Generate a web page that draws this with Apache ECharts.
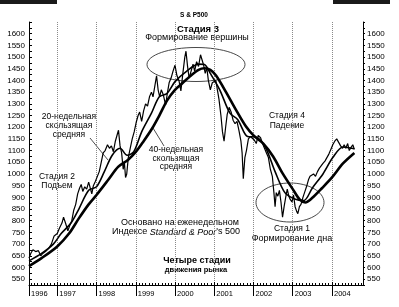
<!DOCTYPE html>
<html>
<head>
<meta charset="utf-8">
<title>S & P500 — четыре стадии</title>
<script src="https://cdn.jsdelivr.net/npm/echarts@6.0.0/dist/echarts.min.js"></script>
<style>
  html, body { margin: 0; padding: 0; background: #fff; }
  #chart { width: 399px; height: 307px; }
</style>
</head>
<body>
<div id="chart"></div>
<script>
// недельный индекс (годы в десятичном виде)
var priceYears = [1996.28,1996.33,1996.38,1996.45,1996.52,1996.58,1996.63,1996.70,1996.78,1996.85,1996.92,
  1997.00,1997.06,1997.12,1997.16,1997.21,1997.27,1997.32,1997.37,1997.42,1997.47,1997.52,1997.57,1997.61,1997.65,1997.70,1997.75,1997.80,1997.84,1997.88,1997.92,1997.97,
  1998.02,1998.07,1998.12,1998.17,1998.22,1998.28,1998.33,1998.38,1998.43,1998.48,1998.53,1998.56,1998.60,1998.64,1998.68,1998.71,1998.74,1998.77,1998.81,1998.86,1998.91,1998.96,
  1999.01,1999.06,1999.10,1999.15,1999.20,1999.25,1999.30,1999.35,1999.40,1999.44,1999.49,1999.53,1999.57,1999.61,1999.65,1999.70,1999.76,1999.80,1999.85,1999.90,1999.95,
  2000.00,2000.05,2000.10,2000.15,2000.20,2000.25,2000.28,2000.32,2000.36,2000.41,2000.46,2000.50,2000.55,2000.60,2000.65,2000.69,2000.73,2000.77,2000.81,2000.85,2000.90,2000.95,
  2001.00,2001.04,2001.08,2001.12,2001.17,2001.21,2001.25,2001.29,2001.33,2001.38,2001.43,2001.48,2001.53,2001.58,2001.63,2001.68,2001.71,2001.74,2001.78,2001.82,2001.87,2001.92,2001.97,
  2002.02,2002.07,2002.12,2002.18,2002.23,2002.28,2002.33,2002.38,2002.43,2002.48,2002.52,2002.55,2002.58,2002.62,2002.66,2002.70,2002.74,2002.78,2002.82,2002.86,2002.90,2002.94,2002.98,
  2003.02,2003.06,2003.10,2003.13,2003.17,2003.21,2003.26,2003.30,2003.35,2003.40,2003.44,2003.48,2003.53,2003.58,2003.63,2003.68,2003.73,2003.77,2003.82,2003.87,2003.92,2003.97,
  2004.02,2004.07,2004.12,2004.17,2004.22,2004.27,2004.31,2004.35,2004.40,2004.44,2004.49,2004.53,2004.57];
var priceValues = [640,662,676,668,672,650,660,668,682,700,735,
  745,770,790,815,790,757,780,800,845,870,915,940,955,925,945,935,965,972,915,950,968,
  960,1010,1050,1090,1100,1125,1110,1120,1095,1140,1170,1187,1120,1090,1020,1050,985,1000,1070,1110,1150,1180,
  1220,1250,1265,1225,1270,1300,1290,1330,1350,1330,1380,1420,1360,1330,1360,1340,1295,1340,1390,1410,1440,
  1465,1420,1400,1355,1430,1500,1525,1460,1410,1440,1470,1440,1480,1460,1510,1517,1465,1430,1455,1400,1360,1390,
  1395,1400,1360,1320,1250,1180,1140,1200,1255,1285,1265,1230,1215,1225,1185,1140,1090,980,1070,1100,1150,1160,1165,
  1145,1130,1165,1155,1130,1110,1090,1070,1020,990,920,860,920,905,930,880,815,860,900,935,905,890,880,
  910,860,840,830,860,870,900,920,945,975,990,985,1000,990,1010,1025,1020,1045,1055,1070,1085,1105,
  1125,1140,1150,1135,1120,1110,1125,1110,1130,1100,1115,1125,1105];

// 20-недельная скользящая средняя
var ma20Years = [1996.28,1996.6,1996.9,1997.1,1997.35,1997.55,1997.8,1998.0,1998.2,1998.4,1998.6,1998.78,1998.95,
  1999.15,1999.4,1999.6,1999.8,2000.0,2000.3,2000.6,2000.75,2000.9,2001.14,2001.4,2001.6,2001.85,
  2002.05,2002.3,2002.55,2002.8,2003.05,2003.28,2003.5,2003.77,2004.02,2004.28,2004.57];
var ma20Values = [628,660,700,745,790,850,930,945,1010,1080,1110,1080,1095,
  1180,1260,1330,1345,1395,1440,1470,1468,1430,1360,1260,1232,1160,
  1158,1115,1010,920,893,886,940,1000,1070,1115,1108];

// 40-недельная скользящая средняя
var ma40Years = [1996.28,1996.6,1997.0,1997.3,1997.55,1997.8,1998.0,1998.3,1998.55,1998.8,1999.0,1999.2,1999.4,
  1999.6,1999.8,2000.0,2000.2,2000.4,2000.6,2000.75,2000.9,2001.05,2001.3,2001.55,2001.8,
  2002.0,2002.25,2002.5,2002.75,2003.0,2003.18,2003.32,2003.5,2003.75,2004.0,2004.28,2004.57];
var ma40Values = [606,640,690,745,810,870,910,975,1030,1060,1094,1140,1190,
  1250,1315,1360,1390,1420,1445,1452,1445,1420,1350,1275,1205,
  1165,1130,1075,1000,935,890,878,898,940,985,1045,1090];

var xMin = 1996.28, xMax = 2004.79;
var yMin = 525, yMax = 1650;

function pairs(xs, ys) {
  var out = [];
  for (var i = 0; i < xs.length; i++) out.push([xs[i], ys[i]]);
  return out;
}

var font = 'Liberation Sans, Arial, sans-serif';
var ink = '#000';

function yLabel(v) {
  return (v % 50 === 0 && v >= 550 && v <= 1600) ? String(v) : '';
}

function txt(x, y, text, size, weight) {
  return {
    type: 'text', x: x, y: y, silent: true,
    style: {
      text: text, fill: ink, fontFamily: font, fontSize: size || 9,
      fontWeight: weight || 'normal',
      align: 'center', verticalAlign: 'middle',
      textAlign: 'center', textVerticalAlign: 'middle'
    }
  };
}

var chart = echarts.init(document.getElementById('chart'));
var option = {
  animation: false,
  backgroundColor: '#fff',
  grid: { left: 29, right: 36, top: 22, bottom: 22 },
  xAxis: [
    {
      type: 'value', min: xMin, max: xMax, splitNumber: 9,
      axisLine: { lineStyle: { color: ink, width: 1 } },
      axisTick: { show: true, length: 11, lineStyle: { color: ink } },
      axisLabel: {
        color: ink, fontFamily: font, fontSize: 7.5, margin: 5,
        align: 'left', padding: [0, 0, 0, 2],
        showMinLabel: true, showMaxLabel: false,
        formatter: function (v) { return String(Math.floor(v)); }
      },
      splitLine: { show: true, lineStyle: { color: '#8a8a8a', type: 'dotted', width: 1 } }
    },
    {
      type: 'value', min: xMin, max: xMax, splitNumber: 9, position: 'bottom',
      axisLine: { show: false },
      axisTick: { show: true, inside: true, length: 3, lineStyle: { color: ink } },
      minorTick: { show: true, splitNumber: 12, length: 2, lineStyle: { color: ink } },
      axisLabel: { show: false },
      splitLine: { show: false }
    }
  ],
  yAxis: [
    {
      type: 'value', position: 'left', min: yMin, max: yMax, interval: 25,
      axisLine: { show: true, lineStyle: { color: ink } },
      axisTick: { show: true, inside: true, length: 3, lineStyle: { color: ink } },
      axisLabel: { color: ink, fontFamily: font, fontSize: 8, margin: 4, formatter: yLabel },
      splitLine: { show: false }
    },
    {
      type: 'value', position: 'right', min: yMin, max: yMax, interval: 25,
      axisLine: { show: true, lineStyle: { color: ink } },
      axisTick: { show: true, length: 2, lineStyle: { color: ink } },
      axisLabel: { color: ink, fontFamily: font, fontSize: 8, margin: 4, formatter: yLabel },
      splitLine: { show: false }
    }
  ],
  series: [
    {
      name: 'S&P 500', type: 'line', symbol: 'none',
      lineStyle: { color: '#000', width: 1.2 },
      data: pairs(priceYears, priceValues)
    },
    {
      name: '20-недельная', type: 'line', symbol: 'none', smooth: 0.3,
      lineStyle: { color: '#000', width: 1.6 },
      data: pairs(ma20Years, ma20Values)
    },
    {
      name: '40-недельная', type: 'line', symbol: 'none', smooth: 0.3,
      lineStyle: { color: '#000', width: 2.6 },
      data: pairs(ma40Years, ma40Values)
    }
  ],
  graphic: [
    { type: 'rect', silent: true, shape: { x: 0, y: 0, width: 57, height: 4 }, style: { fill: '#1a1a1a' } },
    { type: 'rect', silent: true, shape: { x: 333, y: 0, width: 57, height: 4 }, style: { fill: '#1a1a1a' } },
    txt(194, 15, 'S & P500', 6.5, 'bold'),
    txt(198, 29, 'Стадия 3', 9.5, 'bold'),
    txt(197, 38, 'Формирование вершины', 9),
    { type: 'ellipse', silent: true, shape: { cx: 196, cy: 64.5, rx: 49, ry: 17 },
      style: { fill: 'none', stroke: '#333', lineWidth: 0.9 } },
    txt(69, 117, '20-недельная', 8.5),
    txt(69, 126, 'скользящая', 8.5),
    txt(69, 134.5, 'средняя', 8.5),
    { type: 'line', silent: true, shape: { x1: 90, y1: 138, x2: 108, y2: 160 },
      style: { stroke: '#222', lineWidth: 0.8 } },
    txt(176, 150, '40-недельная', 8.5),
    txt(176, 158.5, 'скользящая', 8.5),
    txt(176, 167, 'средняя', 8.5),
    { type: 'line', silent: true, shape: { x1: 153, y1: 128, x2: 164, y2: 146 },
      style: { stroke: '#222', lineWidth: 0.8 } },
    txt(57, 177, 'Стадия 2', 8.5),
    txt(57, 186, 'Подъем', 8.5),
    txt(287, 116, 'Стадия 4', 8.5),
    txt(287, 126, 'Падение', 8.5),
    txt(180, 223, 'Основано на еженедельном', 9),
    {
      type: 'text', x: 176, y: 232, silent: true,
      style: {
        text: '{n|Индексе }{i|Standard & Poor}{n|\'s 500}',
        align: 'center', verticalAlign: 'middle', textAlign: 'center', textVerticalAlign: 'middle',
        rich: {
          n: { fontFamily: font, fontSize: 9, fill: ink, color: ink },
          i: { fontFamily: font, fontSize: 9, fontStyle: 'italic', fill: ink, color: ink }
        }
      }
    },
    txt(197, 261, 'Четыре стадии', 9, 'bold'),
    txt(196, 270, 'движения рынка', 7.5, 'bold'),
    { type: 'ellipse', silent: true, shape: { cx: 290, cy: 202.5, rx: 34, ry: 19.5 },
      style: { fill: 'none', stroke: '#333', lineWidth: 0.9 } },
    txt(292, 229, 'Стадия 1', 8.5),
    txt(292, 239, 'Формирование дна', 9)
  ]
};
chart.setOption(option);
</script>
</body>
</html>
